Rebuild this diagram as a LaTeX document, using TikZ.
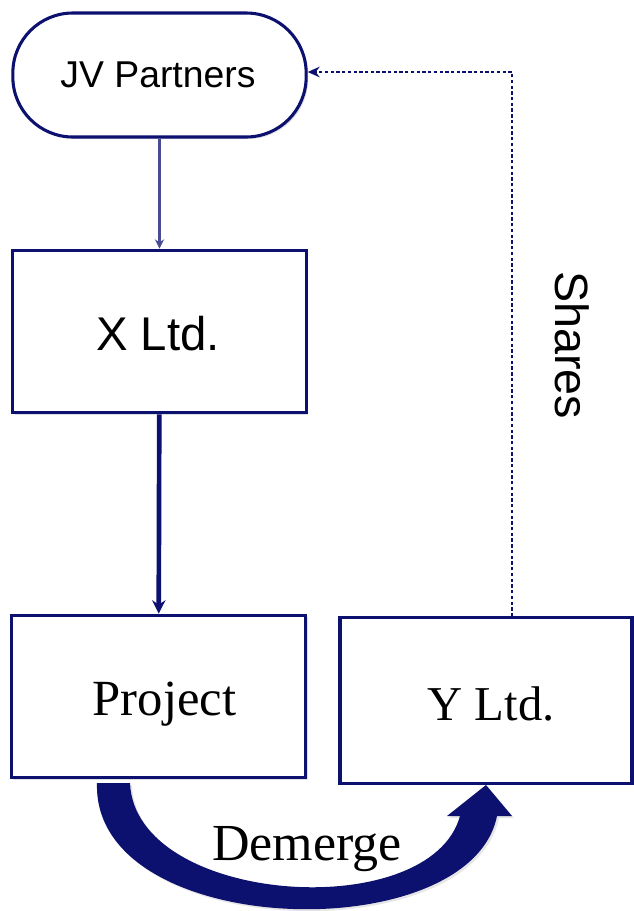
\documentclass[tikz,border=0pt]{standalone}
\usepackage{fontspec}
\setmainfont{Liberation Serif}
\setsansfont{Liberation Sans}
\usetikzlibrary{arrows.meta,shadows,calc}
\definecolor{navy}{RGB}{12,16,110}
\tikzset{
  box/.style={draw=navy, line width=2.3pt, fill=white, inner sep=0pt,
    drop shadow={opacity=0.25, shadow xshift=1.5pt, shadow yshift=-1.5pt}},
  lbl/.style={anchor=base, inner sep=0pt},
  flowarrow/.style={draw=navy, -{Stealth[length=9pt,width=8pt]}},
}
\begin{document}
\begin{tikzpicture}[x=0.75pt,y=-0.75pt]
\useasboundingbox (0,0) rectangle (633,911);
\node[box, rounded corners=45pt, minimum width=220pt, minimum height=93pt] (jv) at (159.5,75) {};
\node[box, minimum width=220pt, minimum height=122pt] (x) at (159.5,331.5) {};
\node[box, minimum width=221pt, minimum height=122pt] (p) at (158.5,696.5) {};
\node[box, minimum width=219pt, minimum height=124pt] (y) at (486,700.5) {};
\node[lbl, font=\sffamily\fontsize{28}{32}\selectfont] (jvt) at (158,87) {JV Partners};
\node[lbl, font=\sffamily\fontsize{35.5}{40}\selectfont] (xt) at (158,350) {X Ltd.};
\node[lbl, font=\fontsize{38}{44}\selectfont] (pt) at (164.5,715) {Project};
\node[lbl, font=\fontsize{36.5}{42}\selectfont] (yt) at (491,720) {Y Ltd.};
\draw[flowarrow, draw=navy!75, line width=2.8pt, -{Stealth[length=7pt,width=7pt]}] (jv) -- (x);
\draw[flowarrow, line width=3.5pt, -{Stealth[length=10pt,width=10pt]}] (x) -- (p);
\coordinate (s) at (512,72);
\draw[navy, line width=1.2pt, dash pattern=on 2.5pt off 1.8pt, -{Stealth[length=9pt,width=8pt]}] (y.north -| s) -- (s) -- (s -| jv.east);
\node[font=\sffamily\fontsize{35}{40}\selectfont, rotate=-90] (sh) at (572,345) {Shares};
\fill[navy, drop shadow={opacity=0.2, shadow xshift=1.5pt, shadow yshift=-1.5pt}]
  (97,783) -- (130,783) .. controls (135,905) and (430,925) .. (460,816)
  -- (447,816) -- (486,785) -- (512,816) -- (497,816)
  .. controls (470,950) and (92,940) .. (97,783) -- cycle;
\node[lbl, font=\fontsize{39}{44}\selectfont] (dm) at (307,860) {Demerge};
\end{tikzpicture}
\end{document}
